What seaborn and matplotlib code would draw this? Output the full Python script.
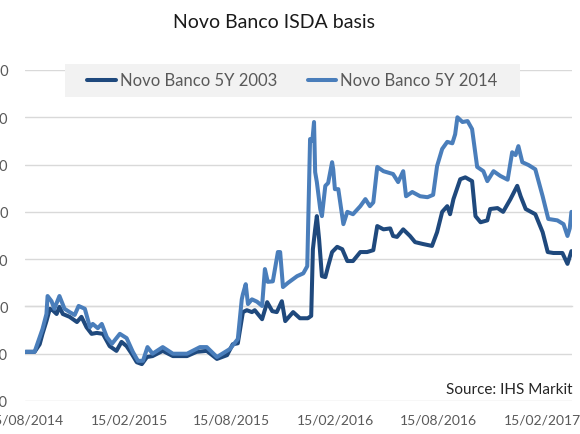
import matplotlib
matplotlib.use("Agg")
import matplotlib.pyplot as plt
import matplotlib.dates as mdates
from matplotlib.patches import Rectangle
from matplotlib.lines import Line2D
import seaborn as sns
import pandas as pd

series_names = ["Novo Banco 5Y 2003", "Novo Banco 5Y 2014"]

dates_2003 = ["2014-08-15", "2014-08-31", "2014-09-09", "2014-09-14", "2014-09-21", "2014-09-27",
              "2014-10-02", "2014-10-09", "2014-10-14", "2014-10-20", "2014-11-01", "2014-11-14",
              "2014-11-22", "2014-12-01", "2014-12-10", "2014-12-19", "2014-12-30", "2015-01-11",
              "2015-01-23", "2015-02-01", "2015-02-10", "2015-02-19", "2015-02-28", "2015-03-09",
              "2015-03-18", "2015-03-28", "2015-04-15", "2015-05-03", "2015-05-28", "2015-06-14",
              "2015-07-02", "2015-07-20", "2015-08-07", "2015-08-17", "2015-08-26", "2015-09-04",
              "2015-09-11", "2015-09-20", "2015-09-25", "2015-10-08", "2015-10-17", "2015-10-26",
              "2015-11-03", "2015-11-12", "2015-11-18", "2015-12-02", "2015-12-14", "2015-12-28",
              "2016-01-03", "2016-01-06", "2016-01-10", "2016-01-13", "2016-01-17", "2016-01-22",
              "2016-01-28", "2016-02-02", "2016-02-09", "2016-02-18", "2016-02-27", "2016-03-07",
              "2016-03-17", "2016-03-30", "2016-04-11", "2016-04-22", "2016-04-29", "2016-05-10",
              "2016-05-22", "2016-05-27", "2016-06-03", "2016-06-14", "2016-06-26", "2016-07-05",
              "2016-07-19", "2016-08-04", "2016-08-13", "2016-08-22", "2016-08-31", "2016-09-05",
              "2016-09-11", "2016-09-23", "2016-10-02", "2016-10-14", "2016-10-20", "2016-10-29",
              "2016-11-10", "2016-11-15", "2016-11-28", "2016-12-08", "2016-12-21", "2017-01-02",
              "2017-01-08", "2017-01-17", "2017-02-03", "2017-02-16", "2017-02-25", "2017-03-07",
              "2017-03-23", "2017-04-01", "2017-04-08"]
values_2003 = [-96, -96, -80, -58, -31, -5,
               -8, -16, -1, -16, -22, -33,
               -22, -44, -58, -56, -58, -84,
               -94, -75, -84, -100, -118, -122,
               -107, -105, -94, -105, -105, -96,
               -94, -111, -103, -80, -78, -12,
               -8, -12, -8, -27, 9, -10,
               -12, 11, -31, -12, -25, -25,
               -20, 121, 163, 191, 142, 64,
               62, 85, 115, 126, 121, 96,
               96, 115, 115, 119, 170, 163,
               165, 149, 147, 163, 149, 136,
               132, 128, 157, 200, 212, 195,
               227, 269, 273, 265, 191, 178,
               182, 206, 208, 200, 227, 255,
               233, 206, 195, 157, 115, 113,
               113, 90, 117]

dates_2014 = ["2014-08-15", "2014-08-31", "2014-09-14", "2014-09-21", "2014-09-23", "2014-09-30",
              "2014-10-05", "2014-10-14", "2014-10-23", "2014-11-01", "2014-11-10", "2014-11-17",
              "2014-11-28", "2014-12-07", "2014-12-12", "2014-12-21", "2014-12-28", "2015-01-06",
              "2015-01-15", "2015-01-29", "2015-02-10", "2015-02-21", "2015-03-02", "2015-03-11",
              "2015-03-19", "2015-03-28", "2015-04-15", "2015-05-03", "2015-05-28", "2015-06-20",
              "2015-07-02", "2015-07-20", "2015-08-12", "2015-08-26", "2015-09-02", "2015-09-04",
              "2015-09-09", "2015-09-13", "2015-09-20", "2015-09-29", "2015-10-08", "2015-10-13",
              "2015-10-18", "2015-10-27", "2015-11-05", "2015-11-09", "2015-11-14", "2015-11-23",
              "2015-12-09", "2015-12-20", "2015-12-27", "2016-01-01", "2016-01-05", "2016-01-08",
              "2016-01-10", "2016-01-13", "2016-01-19", "2016-01-22", "2016-01-28", "2016-02-02",
              "2016-02-09", "2016-02-11", "2016-02-14", "2016-02-20", "2016-02-29", "2016-03-07",
              "2016-03-17", "2016-03-30", "2016-04-08", "2016-04-16", "2016-04-22", "2016-04-29",
              "2016-05-10", "2016-05-27", "2016-06-05", "2016-06-14", "2016-06-19", "2016-06-30",
              "2016-07-14", "2016-07-27", "2016-08-06", "2016-08-13", "2016-08-22", "2016-08-31",
              "2016-09-09", "2016-09-14", "2016-09-18", "2016-09-27", "2016-10-06", "2016-10-14",
              "2016-10-23", "2016-11-03", "2016-11-10", "2016-11-21", "2016-12-03", "2016-12-16",
              "2016-12-24", "2016-12-30", "2017-01-04", "2017-01-11", "2017-01-22", "2017-02-03",
              "2017-02-16", "2017-02-26", "2017-03-14", "2017-03-25", "2017-04-01", "2017-04-05",
              "2017-04-08"]
values_2014 = [-96, -96, -48, -16, 22, 11,
               -5, 22, -5, -12, -18, 1,
               -5, -44, -37, -46, -37, -65,
               -79, -58, -67, -96, -115, -115,
               -86, -100, -86, -100, -100, -86,
               -86, -107, -90, -69, 15, 26,
               47, 5, 15, 10, 1, 79,
               52, 53, 115, 115, 41, 50,
               64, 70, 85, 354, 350, 390,
               284, 263, 206, 191, 255, 261,
               305, 290, 248, 248, 174, 200,
               195, 212, 227, 212, 220, 295,
               286, 280, 263, 286, 233, 242,
               233, 231, 236, 297, 333, 348,
               345, 364, 400, 390, 392, 375,
               295, 286, 265, 286, 276, 268,
               326, 320, 339, 305, 299, 290,
               233, 185, 182, 174, 149, 165,
               200]

y_ticks = [-200, -100, 0, 100, 200, 300, 400, 500]
x_tick_dates = ["2014-08-15", "2015-02-15", "2015-08-15", "2016-02-15", "2016-08-15", "2017-02-15"]
colors = ["#1f497d", "#4a7ebb"]

title = "Novo Banco ISDA basis"
source = "Source: IHS Markit"

df = pd.concat([
    pd.DataFrame({"date": pd.to_datetime(dates_2003), "value": values_2003, "series": series_names[0]}),
    pd.DataFrame({"date": pd.to_datetime(dates_2014), "value": values_2014, "series": series_names[1]}),
], ignore_index=True)

sns.set_theme(style="white")
plt.rcParams["font.family"] = ["Lato", "DejaVu Sans"]

fig = plt.figure(figsize=(5.8, 4.35), dpi=100)
ax = fig.add_axes([25 / 580, 1 - 402 / 435, 547 / 580, 331 / 435])

sns.lineplot(data=df, x="date", y="value", hue="series", palette=colors,
             linewidth=2.9, ax=ax, legend=False, zorder=3)

ax.set_ylim(-200, 500)
ax.set_yticks(y_ticks)
ax.set_xlim(pd.Timestamp("2014-08-14"), pd.Timestamp("2017-04-09"))
ax.set_xticks(pd.to_datetime(x_tick_dates))
ax.xaxis.set_major_formatter(mdates.DateFormatter("%d/%m/%Y"))
ax.set_xlabel("")
ax.set_ylabel("")

ax.grid(axis="y", color="#d9d9d9", linewidth=1.0)
ax.grid(axis="x", visible=False)
for s in ["top", "right", "left"]:
    ax.spines[s].set_visible(False)
ax.spines["bottom"].set_position(("data", 0))
ax.spines["bottom"].set_color("#d9d9d9")
ax.spines["bottom"].set_linewidth(1.0)
ax.set_axisbelow(True)

ax.tick_params(axis="y", length=0, pad=12, labelsize=10.5, labelcolor="#595959")
ax.tick_params(axis="x", direction="out", length=4, width=1, color="#d9d9d9",
               pad=73, labelsize=10, labelcolor="#595959")

# legend box
ax.add_patch(Rectangle(((65 - 25) / 547, (402 - 98) / 331), 455 / 547, 33 / 331,
                       transform=ax.transAxes, facecolor="#f2f2f2", edgecolor="none",
                       clip_on=False, zorder=4))
handles = [Line2D([], [], color=c, linewidth=2.9) for c in colors]
leg = ax.legend(handles, series_names, loc="center", ncol=2,
                bbox_to_anchor=((65 - 25 + 455 / 2) / 547, (402 - 81.5) / 331),
                frameon=False, fontsize=12, handlelength=1.7, handletextpad=0.25,
                columnspacing=1.85, labelcolor="#595959")
leg.set_zorder(5)

fig.text(274 / 580, 1 - 23 / 435, title, ha="center", va="center", fontsize=14, color="#1a1a1a")
ax.text(1.0, (402 - 390) / 331 , source, transform=ax.transAxes, ha="right", va="center",
        fontsize=11, color="#262626", zorder=5)

fig.savefig("out.png", dpi=100)
